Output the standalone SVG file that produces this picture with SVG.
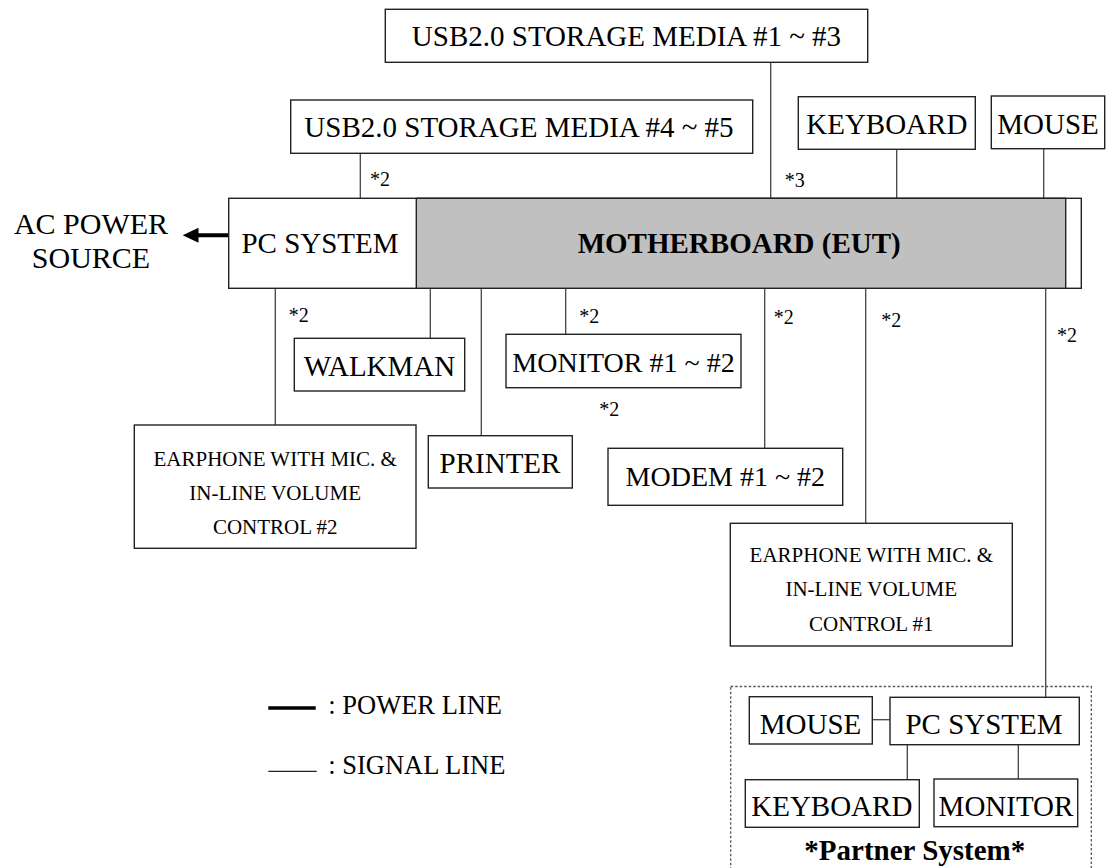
<svg xmlns="http://www.w3.org/2000/svg" width="1114" height="868" viewBox="0 0 1114 868">
<style>
  .box { fill: #fff; stroke: #222; stroke-width: 1.4; }
  .gray { fill: #c0c0c0; stroke: #222; stroke-width: 1.4; }
  .ln { stroke: #444; stroke-width: 1.3; fill: none; }
  .pw { stroke: #000; stroke-width: 4; fill: none; }
  text { font-family: "Liberation Serif", "Times New Roman", serif; fill: #000; }
  .t29 { font-size: 29px; }
  .t28 { font-size: 28px; }
  .t30 { font-size: 30px; }
  .t21 { font-size: 21px; }
  .t20 { font-size: 20px; }
  .t26 { font-size: 26.5px; }
  .b { font-weight: bold; }
  .m { text-anchor: middle; }
  .dot { fill: none; stroke: #555; stroke-width: 1.3; stroke-dasharray: 2.5 2; }
</style>

<g id="connectors">
  <line class="ln" x1="770.7" y1="62.3" x2="770.7" y2="198.3"/>
  <line class="ln" x1="360.3" y1="153.3" x2="360.3" y2="198.3"/>
  <line class="ln" x1="896.7" y1="149.3" x2="896.7" y2="198.3"/>
  <line class="ln" x1="1043.7" y1="148.7" x2="1043.7" y2="198.3"/>
  <line class="ln" x1="275.3" y1="288.3" x2="275.3" y2="425"/>
  <line class="ln" x1="430.3" y1="288.3" x2="430.3" y2="338.3"/>
  <line class="ln" x1="481.3" y1="288.3" x2="481.3" y2="435.7"/>
  <line class="ln" x1="565.7" y1="288.3" x2="565.7" y2="334.3"/>
  <line class="ln" x1="764.7" y1="288.3" x2="764.7" y2="448.3"/>
  <line class="ln" x1="865.7" y1="288.3" x2="865.7" y2="523.3"/>
  <line class="ln" x1="1045.7" y1="286.7" x2="1045.7" y2="697.3"/>
  <line class="ln" x1="872.3" y1="719.7" x2="890" y2="719.7"/>
  <line class="ln" x1="907.3" y1="744.7" x2="907.3" y2="779.7"/>
  <line class="ln" x1="1018.3" y1="744.7" x2="1018.3" y2="779"/>
  <line class="pw" x1="228.7" y1="235.3" x2="196" y2="235.3"/>
  <polygon points="182.7,235.3 198.5,227.8 198.5,242.8" fill="#000"/>
</g>

<g id="labels">
  <text class="t20" x="370" y="185.5">*2</text>
  <text class="t20" x="784.7" y="186.5">*3</text>
  <text class="t20" x="288.7" y="321.7">*2</text>
  <text class="t20" x="579.3" y="322.7">*2</text>
  <text class="t20" x="599.3" y="416">*2</text>
  <text class="t20" x="773.7" y="324">*2</text>
  <text class="t20" x="881.3" y="327">*2</text>
  <text class="t20" x="1057" y="342">*2</text>
</g>

<g id="ac-power">
  <text class="t30 m" x="91" y="234">AC POWER</text>
  <text class="t30 m" x="91" y="268.3">SOURCE</text>
</g>

<g id="usb13">
  <rect class="box" x="385.3" y="9.3" width="482.4" height="53"/>
  <text class="t29 m" x="626.5" y="45.7">USB2.0 STORAGE MEDIA #1 ~ #3</text>
</g>

<g id="usb45">
  <rect class="box" x="290.7" y="100" width="462" height="53.3"/>
  <text class="t29 m" x="519" y="136.7">USB2.0 STORAGE MEDIA #4 ~ #5</text>
</g>

<g id="keyboard">
  <rect class="box" x="798.3" y="96.7" width="177" height="52.6"/>
  <text class="t29 m" x="886.8" y="134">KEYBOARD</text>
</g>

<g id="mouse">
  <rect class="box" x="991.3" y="96" width="113.4" height="52.7"/>
  <text class="t29 m" x="1048" y="134">MOUSE</text>
</g>

<g id="pc-system">
  <rect class="box" x="228.7" y="198.3" width="852.6" height="90"/>
  <text class="t29 m" x="320" y="253.3">PC SYSTEM</text>
</g>

<g id="motherboard">
  <rect class="gray" x="416.3" y="198.3" width="649.4" height="90"/>
  <text class="t29 b" x="577.7" y="253.3">MOTHERBOARD (EUT)</text>
</g>

<g id="walkman">
  <rect class="box" x="294.3" y="338.3" width="170.4" height="52.7"/>
  <text class="t29 m" x="379.5" y="375.7">WALKMAN</text>
</g>

<g id="monitor12">
  <rect class="box" x="506" y="334.3" width="235" height="53.4"/>
  <text class="t28 m" x="623.5" y="371.7">MONITOR #1 ~ #2</text>
</g>

<g id="printer">
  <rect class="box" x="428.3" y="435.7" width="144" height="52.3"/>
  <text class="t29 m" x="500" y="473.3">PRINTER</text>
</g>

<g id="modem">
  <rect class="box" x="608" y="448.3" width="234.7" height="57"/>
  <text class="t28 m" x="725.3" y="486">MODEM #1 ~ #2</text>
</g>

<g id="earphone2">
  <rect class="box" x="134.3" y="425" width="281.7" height="123.3"/>
  <text class="t21 m" x="275.2" y="465.7">EARPHONE WITH MIC. &amp;</text>
  <text class="t21 m" x="275.2" y="499.7">IN-LINE VOLUME</text>
  <text class="t21 m" x="275.2" y="534">CONTROL #2</text>
</g>

<g id="earphone1">
  <rect class="box" x="730.3" y="523.3" width="282" height="122.7"/>
  <text class="t21 m" x="871.3" y="562.3">EARPHONE WITH MIC. &amp;</text>
  <text class="t21 m" x="871.3" y="596.3">IN-LINE VOLUME</text>
  <text class="t21 m" x="871.3" y="630.7">CONTROL #1</text>
</g>

<g id="partner-system">
  <rect class="dot" x="730.7" y="686.5" width="360.6" height="190"/>
  <text class="t29 b m" x="914.8" y="860">*Partner System*</text>
</g>

<g id="partner-mouse">
  <rect class="box" x="749.3" y="696.7" width="123" height="47.3"/>
  <text class="t29 m" x="810.5" y="734">MOUSE</text>
</g>

<g id="partner-pc">
  <rect class="box" x="890" y="697.3" width="189.3" height="47.4"/>
  <text class="t29 m" x="984" y="734">PC SYSTEM</text>
</g>

<g id="partner-keyboard">
  <rect class="box" x="745.3" y="779.7" width="174" height="47.6"/>
  <text class="t29 m" x="831.8" y="816.3">KEYBOARD</text>
</g>

<g id="partner-monitor">
  <rect class="box" x="934" y="779" width="143.7" height="47.7"/>
  <text class="t29 m" x="1006" y="816.3">MONITOR</text>
</g>

<g id="legend">
  <line x1="268.3" y1="708" x2="315.7" y2="708" stroke="#000" stroke-width="3.7"/>
  <text class="t26" x="328.3" y="714">: POWER LINE</text>
  <line x1="268.3" y1="771.3" x2="316.7" y2="771.3" stroke="#222" stroke-width="1.2"/>
  <text class="t26" x="328.3" y="773.5">: SIGNAL LINE</text>
</g>
</svg>
